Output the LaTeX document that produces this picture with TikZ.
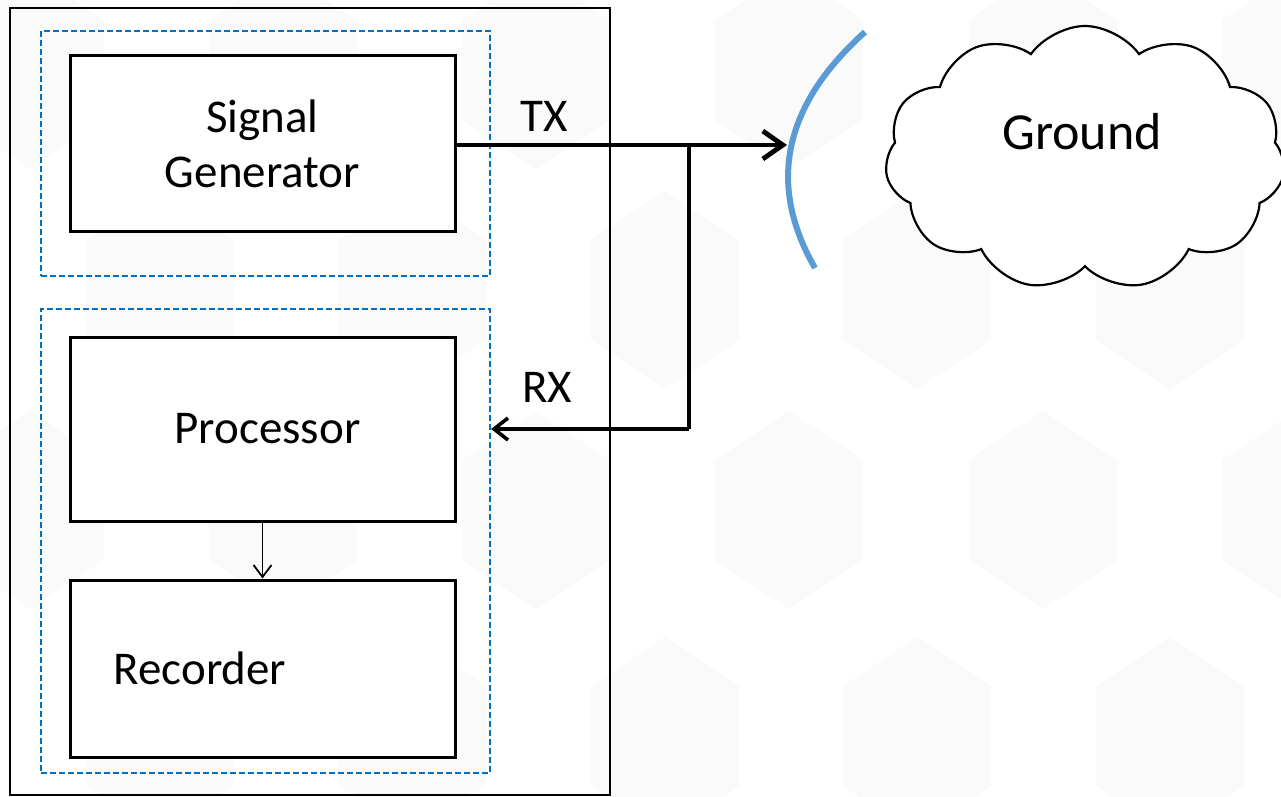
\documentclass[tikz,border=0pt]{standalone}
\usepackage{fontspec}
\setmainfont{Carlito}
\usetikzlibrary{arrows.meta, shapes.symbols, positioning}
\definecolor{dashblue}{RGB}{0,112,192}
\definecolor{archblue}{RGB}{91,155,213}
\definecolor{hexgray}{RGB}{250,250,250}

\begin{document}
\begin{tikzpicture}[x = 0.5pt, y = -0.5pt,
    box/.style = {draw, line width = 1.5pt, fill = white, minimum width = 192.5pt, inner sep = 0pt, align = center, font = \fontsize{23.5}{27.5}\selectfont},
    group/.style = {draw = dashblue, line width = 1.1pt, dash pattern = on 3pt off 1.5pt, minimum width = 224.5pt, inner sep = 0pt},
    lbl/.style = {inner sep = 0pt, font = \fontsize{23.5}{27.5}\selectfont}]
    % Parametri
    \pgfmathsetmacro{\hw}{74}
    \pgfmathsetmacro{\hh}{99}
    \pgfmathsetmacro{\hs}{50}
    \useasboundingbox (0,0) rectangle (1281,797);
    \clip (0,0) rectangle (1281,797);
    % Sfondo esagoni
    \foreach \cx/\cy in {30/70, 283/70, 536/70, 789/70, 1043/70, 1296/70,
                         160/290, 412/290, 665/290, 917/290, 1170/290,
                         30/510, 283/510, 536/510, 789/510, 1043/510, 1296/510,
                         160/736, 412/736, 665/736, 917/736, 1170/736}
        \fill[hexgray] (\cx,{\cy-\hh}) -- ({\cx+\hw},{\cy-\hs}) -- ({\cx+\hw},{\cy+\hs})
            -- (\cx,{\cy+\hh}) -- ({\cx-\hw},{\cy+\hs}) -- ({\cx-\hw},{\cy-\hs}) -- cycle;
    % Contenitore
    \node[draw, line width = 1.2pt, minimum width = 300pt, minimum height = 393.5pt, inner sep = 0pt] (unit) at (310,401.5) {};
    % Gruppi tratteggiati
    \node[group, minimum height = 122.5pt] (txgroup) at (265.5,153.5) {};
    \node[group, minimum height = 232pt] (rxgroup) at (265.5,541) {};
    % Blocchi
    \node[box, minimum height = 88pt] (sg) at (262.5,144) {Signal\\Generator};
    \node[box, minimum height = 92pt] (proc) at (262.5,429) {\hspace*{5pt}Processor};
    \node[box, minimum height = 88.5pt] (rec) at (262.5,668.5) {};
    \node[lbl] (reclbl) at (200,668) {Recorder};
    % Antenna
    \draw[archblue, line width = 3pt] (865,32) .. controls (778,110) and (770,190) .. (815,268);
    % Nuvola
    \node[cloud, cloud puffs = 11, cloud puff arc = 110, aspect = 1.6, draw, line width = 1.1pt, fill = white,
          minimum width = 200pt, minimum height = 132pt, inner sep = 0pt] (ground) at (1085,158) {};
    \node[lbl, font = \fontsize{26}{30}\selectfont] (groundlbl) at (1082,132) {Ground};
    % Collegamenti
    \coordinate (dish) at (787,145);
    \coordinate (tap) at (689,145);
    \draw[line width = 2.4pt, -{Straight Barb[length = 10pt, width = 14pt, line width = 2.4pt]}] (sg.east |- dish) -- (dish);
    \draw[line width = 2.2pt] (tap) -- (tap |- proc);
    \draw[line width = 1.8pt, -{Straight Barb[length = 7pt, width = 11pt, line width = 1.8pt]}] (tap |- proc) -- (rxgroup.east |- proc);
    \draw[line width = 0.9pt, -{Straight Barb[length = 6pt, width = 9pt, line width = 0.9pt]}] (proc.south) -- (rec.north);
    % Etichette
    \node[lbl] (txlbl) at (544,116) {TX};
    \node[lbl] (rxlbl) at (547,387) {RX};
\end{tikzpicture}
\end{document}
